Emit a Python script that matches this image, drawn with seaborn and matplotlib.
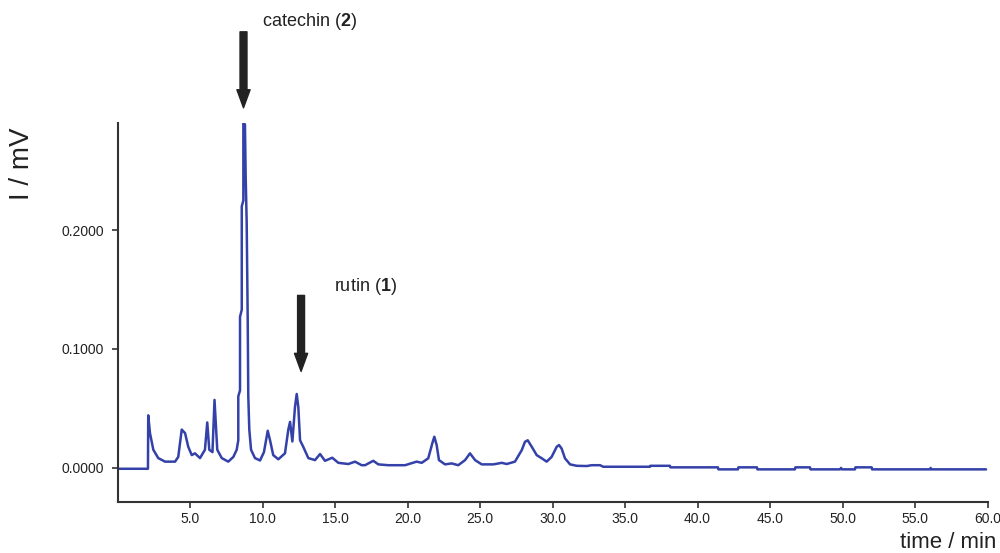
import matplotlib
matplotlib.use("Agg")
import matplotlib.pyplot as plt
import seaborn as sns
import pandas as pd

# chromatogram trace (time in min, signal in mV)
time = [0.00, 2.10, 2.12, 2.24, 2.47, 2.81, 3.28, 3.97, 4.19, 4.43, 4.66, 4.88,
        5.12, 5.34, 5.69, 6.03, 6.19, 6.33, 6.55, 6.69, 6.88, 7.19, 7.64, 7.99,
        8.22, 8.33, 8.33, 8.45, 8.45, 8.57, 8.57, 8.68, 8.68, 8.79, 8.84, 8.91,
        8.98, 9.02, 9.09, 9.21, 9.48, 9.83, 10.10, 10.36, 10.52, 10.74, 11.09,
        11.55, 11.78, 11.90, 12.06, 12.24, 12.36, 12.47, 12.59, 12.81, 13.16,
        13.62, 13.97, 14.31, 14.81, 15.23, 15.92, 16.38, 16.84, 17.07, 17.64,
        17.99, 18.68, 19.83, 20.63, 20.98, 21.43, 21.71, 21.85, 22.01, 22.17,
        22.59, 23.05, 23.50, 23.97, 24.31, 24.66, 25.12, 25.92, 26.50, 26.84,
        27.41, 27.88, 28.10, 28.29, 28.57, 28.91, 29.26, 29.60, 29.94, 30.29,
        30.45, 30.63, 30.86, 31.21, 31.67, 32.36, 32.70, 33.28, 33.50, 36.72,
        36.75, 38.10, 38.13, 41.41, 41.44, 42.79, 42.82, 44.10, 44.13, 46.72,
        46.75, 47.76, 47.79, 49.83, 49.90, 49.97, 50.86, 50.89, 52.01, 52.04,
        56.03, 56.08, 56.13, 59.90]
signal = [-0.0010, -0.0010, 0.0440, 0.0290, 0.0150, 0.0080, 0.0050, 0.0050,
          0.0090, 0.0320, 0.0290, 0.0175, 0.0105, 0.0120, 0.0080, 0.0150,
          0.0380, 0.0150, 0.0130, 0.0570, 0.0150, 0.0080, 0.0050, 0.0090,
          0.0150, 0.0230, 0.0600, 0.0650, 0.1270, 0.1330, 0.2200, 0.2250,
          0.2900, 0.2890, 0.2450, 0.2060, 0.1240, 0.0600, 0.0320, 0.0150,
          0.0080, 0.0060, 0.0130, 0.0310, 0.0230, 0.0105, 0.0070, 0.0120,
          0.0320, 0.0385, 0.0220, 0.0510, 0.0620, 0.0510, 0.0230, 0.0175,
          0.0080, 0.0063, 0.0114, 0.0057, 0.0083, 0.0040, 0.0030, 0.0050,
          0.0020, 0.0020, 0.0057, 0.0027, 0.0020, 0.0020, 0.0050, 0.0040,
          0.0078, 0.0204, 0.0260, 0.0190, 0.0063, 0.0027, 0.0035, 0.0020,
          0.0063, 0.0120, 0.0063, 0.0027, 0.0027, 0.0040, 0.0030, 0.0050,
          0.0147, 0.0217, 0.0230, 0.0175, 0.0105, 0.0078, 0.0050, 0.0090,
          0.0175, 0.0190, 0.0160, 0.0078, 0.0027, 0.0015, 0.0013, 0.0020,
          0.0020, 0.0007, 0.0007, 0.0015, 0.0015, 0.0002, 0.0002, -0.0015,
          -0.0015, 0.0002, 0.0002, -0.0015, -0.0015, 0.0002, 0.0002, -0.0015,
          -0.0015, -0.0003, -0.0015, -0.0015, 0.0002, 0.0002, -0.0015,
          -0.0015, -0.0003, -0.0015, -0.0015]

# marked compounds
compound = ["catechin", "rutin"]
compound_no = ["2", "1"]
arrow_time = [8.69, 12.66]

xticks = [5, 10, 15, 20, 25, 30, 35, 40, 45, 50, 55, 60]
yticks = [0.0, 0.1, 0.2]

df = pd.DataFrame({"time": time, "signal": signal})

sns.set_style("ticks")
plt.rcParams["font.family"] = ["Liberation Sans", "DejaVu Sans"]
plt.rcParams["mathtext.fontset"] = "custom"
plt.rcParams["mathtext.bf"] = "Liberation Sans:bold"
plt.rcParams["mathtext.rm"] = "Liberation Sans"

fig = plt.figure(figsize=(10, 5.53), dpi=100)
ax = fig.add_axes([0.1175, 0.0922, 0.87, 0.686])

sns.lineplot(data=df, x="time", y="signal", ax=ax, color="#3341a8",
             linewidth=1.8, sort=False, estimator=None)

ax.set_xlim(0, 60)
ax.set_ylim(-0.029, 0.2905)
ax.set_xticks(xticks)
ax.set_xticklabels([f"{t:.1f}" for t in xticks])
ax.set_yticks(yticks)
ax.set_yticklabels([f"{v:.4f}" for v in yticks])
ax.set_xlabel("")
ax.set_ylabel("")
sns.despine(ax=ax)
for s in ["left", "bottom"]:
    ax.spines[s].set_linewidth(1.5)
    ax.spines[s].set_color("#333333")
ax.tick_params(axis="both", length=4.5, width=1.2, color="#333333",
               labelsize=10, labelcolor="#222222")
ax.tick_params(axis="y", pad=5)
ax.tick_params(axis="x", pad=2.5)

# arrows + labels
tips = [0.303, 0.081]
label_pos = [(10.0, 0.3756), (14.93, 0.1523)]
for name, no, t, tip, (lx, ly) in zip(compound, compound_no, arrow_time, tips, label_pos):
    ax.annotate("", xy=(t, tip), xytext=(t, tip + 0.064),
                arrowprops=dict(arrowstyle="simple,head_length=1.3,head_width=0.95,tail_width=0.5",
                                mutation_scale=10, color="#222222",
                                shrinkA=0, shrinkB=0),
                annotation_clip=False)
    ax.text(lx, ly, name + r" ($\mathbf{" + no + "}$)", fontsize=13,
            color="#222222", ha="left", va="center", clip_on=False)

fig.text(0.022, 1 - 164 / 553, "I / mV", rotation=90, ha="center", va="center",
         fontsize=20, color="#222222")
fig.text(0.996, 0.0095, "time / min", ha="right", va="baseline",
         fontsize=16, color="#222222")

fig.savefig("out.png", dpi=100)
